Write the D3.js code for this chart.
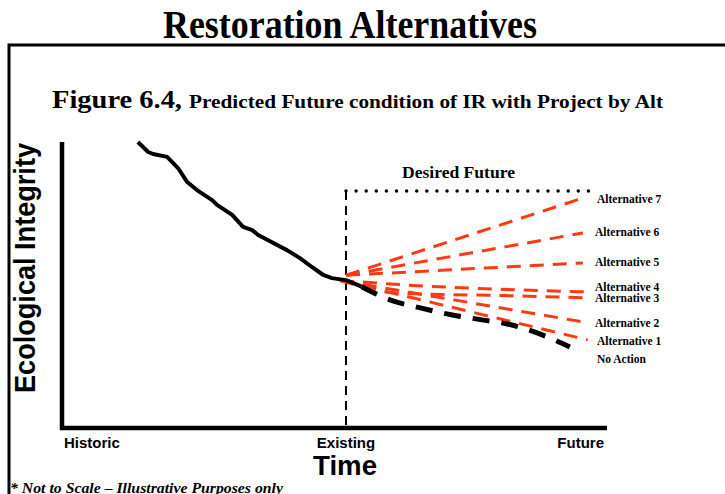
<!DOCTYPE html>

<head>
    <meta charset="utf-8">
    <title>Restoration Alternatives</title>
    <script type="text/javascript" src="https://d3js.org/d3.v7.min.js"></script>
    <style>
        body { margin: 0; background: #fff; }
        svg { display: block; }
        .serif { font-family: "Liberation Serif", "Times New Roman", serif; font-weight: bold; }
        .sans { font-family: "Liberation Sans", Arial, sans-serif; font-weight: bold; }
    </style>
</head>

<body>
    <div id="container"></div>
    <script>
        //-----------------------------DATA-----------------------------//
        var xTickLabels = ["Historic", "Existing", "Future"];
        var xTickValues = [0, 52.4, 100];

        var historic = [
            [14.0, 100], [15.9, 96.5], [16.8, 95.8], [19.4, 94.8], [21.4, 90.9],
            [23.1, 86.0], [24.9, 83.2], [27.7, 79.7], [28.6, 78.0], [31.4, 74.5],
            [33.4, 70.3], [35.1, 69.2], [36.2, 67.5], [39.7, 64.0], [41.5, 62.2],
            [43.9, 59.4], [46.1, 56.3], [48.2, 53.5], [49.8, 52.4], [52.4, 51.7],
            [55.3, 49.4]
        ];

        var noAction = [
            [55.3, 49.4], [60.5, 44.8], [66.1, 42.0], [72.0, 39.5], [77.5, 37.8],
            [83.0, 36.0], [88.7, 32.5], [93.7, 28.3]
        ];

        var altNames = ["Alternative 7", "Alternative 6", "Alternative 5", "Alternative 4",
            "Alternative 3", "Alternative 2", "Alternative 1"];
        var altValues = [
            [[52.4, 53.4], [96.1, 80.4]],
            [[52.4, 53.4], [96.1, 68.2]],
            [[52.4, 53.4], [96.1, 57.7]],
            [[51.3, 51.6], [63.6, 50.0], [97.0, 47.6]],
            [[51.3, 51.6], [62.4, 47.1], [81.7, 46.3], [96.9, 45.5]],
            [[51.3, 51.6], [96.1, 37.1]],
            [[51.3, 51.6], [97.0, 30.8]]
        ];
        // label baselines (same y units as the chart)
        var labelNames = altNames.concat(["No Action"]);
        var labelValues = [78.7, 67.2, 56.8, 48.0, 43.9, 35.4, 29.0, 22.6];

        var desiredFuture = 82.9;
        var desiredFutureEnd = 97.2;

        //------------------------------SVG-----------------------------//
        var W = 725, H = 494;
        var svg = d3.select("div#container").append("svg")
            .attr("width", W).attr("height", H);

        svg.append("rect").attr("width", W).attr("height", H).attr("fill", "#fff");

        var xScale = d3.scaleLinear().domain([0, 100]).range([62, 604]);
        var yScale = d3.scaleLinear().domain([0, 100]).range([428, 142]);

        //----------------------------TITLES----------------------------//
        svg.append("text")
            .attr("class", "serif")
            .attr("x", 163).attr("y", 38)
            .attr("font-size", 40)
            .attr("textLength", 374)
            .attr("lengthAdjust", "spacingAndGlyphs")
            .text("Restoration Alternatives");

        svg.append("path")
            .attr("d", "M9,494V45H725")
            .attr("fill", "none")
            .attr("stroke", "#000")
            .attr("stroke-width", 3);

        svg.append("text")
            .attr("class", "serif")
            .attr("x", 52).attr("y", 108)
            .attr("font-size", 26)
            .attr("textLength", 130)
            .attr("lengthAdjust", "spacingAndGlyphs")
            .text("Figure 6.4,");

        svg.append("text")
            .attr("class", "serif")
            .attr("x", 189).attr("y", 108)
            .attr("font-size", 19)
            .attr("textLength", 474)
            .attr("lengthAdjust", "spacingAndGlyphs")
            .text("Predicted Future condition of IR with Project by Alt");

        //-----------------------------AXES-----------------------------//
        var g = svg.append("g");

        // existing marker + desired future box
        g.append("line")
            .attr("x1", xScale(xTickValues[1])).attr("x2", xScale(xTickValues[1]))
            .attr("y1", yScale(desiredFuture)).attr("y2", yScale(0))
            .attr("stroke", "#000").attr("stroke-width", 2)
            .attr("stroke-dasharray", "9,6");

        g.append("line")
            .attr("x1", xScale(xTickValues[1])).attr("x2", xScale(desiredFutureEnd))
            .attr("y1", yScale(desiredFuture)).attr("y2", yScale(desiredFuture))
            .attr("stroke", "#000").attr("stroke-width", 3.5)
            .attr("stroke-linecap", "round")
            .attr("stroke-dasharray", "0,10.1");

        g.append("text")
            .attr("class", "serif")
            .attr("x", 402).attr("y", 178)
            .attr("font-size", 17)
            .attr("textLength", 113)
            .attr("lengthAdjust", "spacingAndGlyphs")
            .text("Desired Future");

        var xaxis = d3.axisBottom(xScale).tickValues([]).tickSizeOuter(0);
        var yaxis = d3.axisLeft(yScale).tickValues([]).tickSizeOuter(0);

        g.append("g")
            .attr("transform", "translate(0," + yScale(0) + ")")
            .call(xaxis)
            .select(".domain")
            .attr("stroke-width", 4.5)
            .attr("d", "M" + (xScale(0) - 2) + ",0H" + (xScale(100) + 3));

        g.append("g")
            .attr("transform", "translate(" + xScale(0) + ",0)")
            .call(yaxis)
            .select(".domain")
            .attr("stroke-width", 4.5)
            .attr("d", "M0," + yScale(100) + "V" + (yScale(0) + 2));

        var anchors = ["start", "middle", "end"];
        g.selectAll(".xlab")
            .data(xTickLabels)
            .enter().append("text")
            .attr("class", "sans xlab")
            .attr("x", function (d, i) { return xScale(xTickValues[i]) + (i === 0 ? 2 : 0); })
            .attr("y", 448)
            .attr("font-size", 15)
            .attr("text-anchor", function (d, i) { return anchors[i]; })
            .text(function (d) { return d; });

        g.append("text")
            .attr("class", "sans")
            .attr("x", 313).attr("y", 475)
            .attr("font-size", 27)
            .attr("textLength", 64)
            .attr("lengthAdjust", "spacingAndGlyphs")
            .text("Time");

        g.append("text")
            .attr("class", "sans")
            .attr("transform", "translate(35,393) rotate(-90)")
            .attr("font-size", 29)
            .attr("textLength", 250)
            .attr("lengthAdjust", "spacingAndGlyphs")
            .text("Ecological Integrity");

        //----------------------------LINES-----------------------------//
        var line = d3.line()
            .x(function (d) { return xScale(d[0]); })
            .y(function (d) { return yScale(d[1]); })
            .curve(d3.curveMonotoneX);

        var roughLine = d3.line()
            .x(function (d) { return xScale(d[0]); })
            .y(function (d) { return yScale(d[1]); });

        g.selectAll(".alt")
            .data(altValues)
            .enter().append("path")
            .attr("class", "alt")
            .attr("d", line)
            .attr("fill", "none")
            .attr("stroke", "#ff3a12")
            .attr("stroke-width", 3)
            .attr("stroke-dasharray", "14,9");

        g.append("path")
            .attr("d", line(noAction))
            .attr("fill", "none")
            .attr("stroke", "#000")
            .attr("stroke-width", 5)
            .attr("stroke-dasharray", "17,12");

        g.append("path")
            .attr("d", roughLine(historic))
            .attr("fill", "none")
            .attr("stroke", "#000")
            .attr("stroke-width", 4)
            .attr("stroke-linejoin", "round");

        //----------------------------LABELS----------------------------//
        g.selectAll(".altlab")
            .data(labelNames)
            .enter().append("text")
            .attr("class", "serif altlab")
            .attr("x", function (d, i) { return (i === 0 || i >= 6) ? 597 : 595; })
            .attr("y", function (d, i) { return yScale(labelValues[i]); })
            .attr("font-size", 11.5)
            .text(function (d) { return d; });

        //---------------------------FOOTNOTE---------------------------//
        svg.append("text")
            .attr("class", "serif")
            .attr("x", 10).attr("y", 493)
            .attr("font-size", 14)
            .attr("font-style", "italic")
            .attr("textLength", 273)
            .attr("lengthAdjust", "spacingAndGlyphs")
            .text("* Not to Scale \u2013 Illustrative Purposes only");
    </script>
</body>
